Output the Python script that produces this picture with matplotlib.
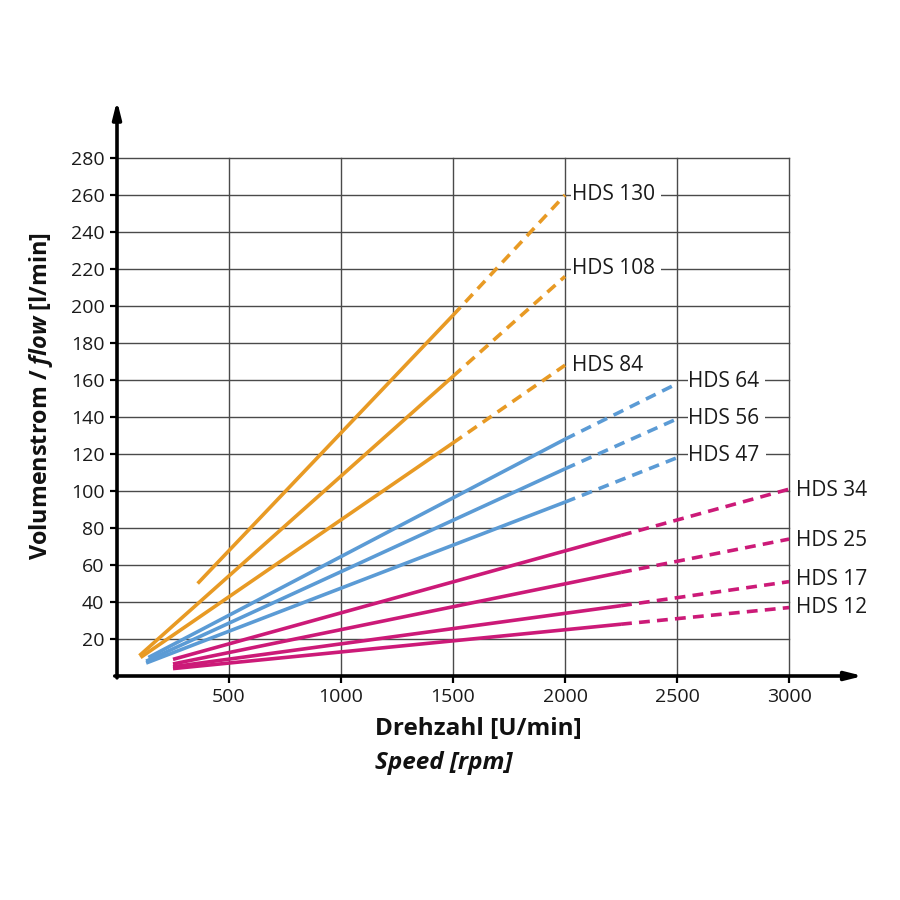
import matplotlib
matplotlib.use("Agg")
import matplotlib.pyplot as plt

plt.rcParams['font.family'] = ['Open Sans', 'DejaVu Sans']
plt.rcParams['mathtext.fontset'] = 'custom'
plt.rcParams['mathtext.bfit'] = 'Open Sans:italic:bold'
plt.rcParams['mathtext.rm'] = 'Open Sans'

# ---- data ----
series_names = ["HDS 130", "HDS 108", "HDS 84", "HDS 64", "HDS 56", "HDS 47",
                "HDS 34", "HDS 25", "HDS 17", "HDS 12"]
# solid part: start speed, start flow, end speed, end flow
solid_x = [[360, 1500], [100, 1500], [105, 1500],
           [140, 2000], [130, 2000], [130, 2000],
           [250, 2250], [250, 2250], [250, 2250], [250, 2250]]
solid_y = [[50, 195], [11, 162], [10, 126],
           [10, 128], [8, 112], [7, 94],
           [9, 76], [6.5, 56], [5, 38], [4, 28]]
# dashed continuation: end speed, end flow
dash_end_x = [2000, 2000, 2000, 2500, 2500, 2500, 3000, 3000, 3000, 3000]
dash_end_y = [260, 216, 168, 158, 139, 118, 101, 74, 51, 37]
# label positions
label_x = [2030, 2030, 2030, 2550, 2550, 2550, 3030, 3030, 3030, 3030]
label_y = [260, 220, 168, 159, 139, 119, 100, 73.5, 52, 37]
group = ["o", "o", "o", "b", "b", "b", "m", "m", "m", "m"]
colors = {"o": "#E89A24", "b": "#5B9BD5", "m": "#CC1A78"}

x_ticks = [500, 1000, 1500, 2000, 2500, 3000]
y_ticks = [20, 40, 60, 80, 100, 120, 140, 160, 180, 200, 220, 240, 260, 280]

fig = plt.figure(figsize=(9, 9), dpi=100)
ax = fig.add_axes([117/900, 1-676/900, 746/900, 592/900])
ax.set_xlim(0, 3330)
ax.set_ylim(0, 320)
for s in ax.spines.values():
    s.set_visible(False)

gc = "#4a4a4a"
for xv in x_ticks:
    ax.plot([xv, xv], [0, 280], color=gc, lw=1.0, zorder=1)
for yv in y_ticks:
    ax.plot([0, 3000], [yv, yv], color=gc, lw=1.0, zorder=1)

ax.set_xticks(x_ticks)
ax.set_yticks(y_ticks)
ax.tick_params(axis='both', length=5, width=1.6, color='black',
               labelsize=14, labelcolor='#1a1a1a', pad=4)

# axis arrows
ax.annotate("", xy=(3330, 0), xytext=(-10, 0),
            arrowprops=dict(arrowstyle="-|>,head_length=1.0,head_width=0.25",
                            color='black', lw=2.6, shrinkA=0, shrinkB=0),
            annotation_clip=False, zorder=5)
ax.annotate("", xy=(0, 311), xytext=(0, -1),
            arrowprops=dict(arrowstyle="-|>,head_length=1.0,head_width=0.25",
                            color='black', lw=2.6, shrinkA=0, shrinkB=0),
            annotation_clip=False, zorder=5)

for i, name in enumerate(series_names):
    c = colors[group[i]]
    ax.plot(solid_x[i], solid_y[i], color=c, lw=2.6, solid_capstyle='butt', zorder=3)
    ax.plot([solid_x[i][1], dash_end_x[i]], [solid_y[i][1], dash_end_y[i]],
            color=c, lw=2.6, dashes=(3.0, 2.0), dash_capstyle='butt', zorder=3)
    ax.text(label_x[i], label_y[i], name + " ", fontsize=15, color='#1a1a1a',
            ha='left', va='center', zorder=4,
            bbox=dict(boxstyle='square,pad=0.03', fc='white', ec='none'))

fig.text(41/900, 1-396/900, r"Volumenstrom / $\mathbfit{flow}$ [l/min]",
         rotation=90, fontsize=16.8, fontweight='bold',
         ha='center', va='center', color='#111111')
fig.text(375/900, 1-729/900, "Drehzahl [U/min]", fontsize=17.5, fontweight='bold',
         ha='left', va='center', color='#111111')
fig.text(375/900, 1-763/900, "Speed [rpm]", fontsize=17.5, fontweight='bold',
         style='italic', ha='left', va='center', color='#111111')

fig.savefig("out.png", dpi=100)
